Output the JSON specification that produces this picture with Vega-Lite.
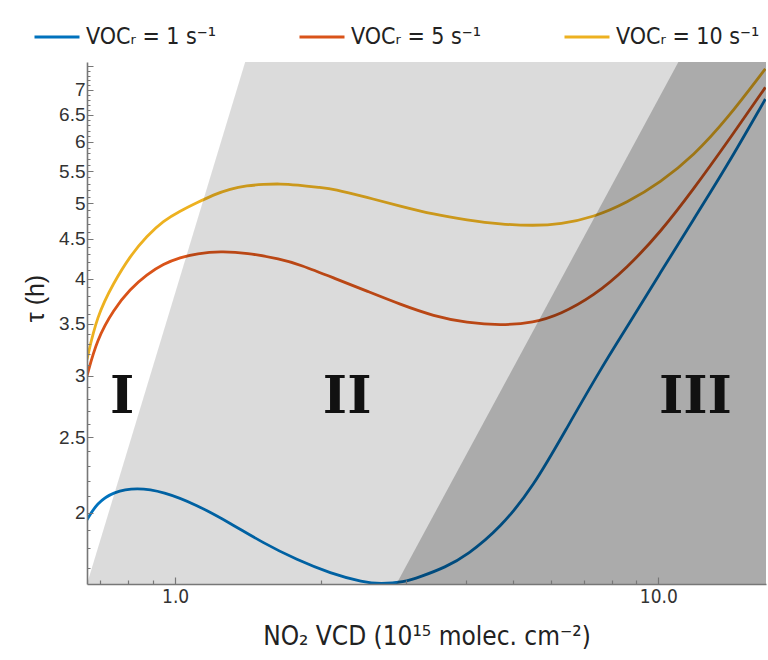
{
  "$schema": "https://vega.github.io/schema/vega-lite/v6.json",
  "width": 679,
  "height": 522,
  "autosize": "none",
  "padding": {"left": 87, "top": 62, "right": 2, "bottom": 76},
  "background": "white",
  "config": {"view": {"stroke": null}},
  "datasets": {
    "curves": [
      {"series": "VOCᵣ = 1 s⁻¹", "no2": 0.657, "tau": 1.959},
      {"series": "VOCᵣ = 1 s⁻¹", "no2": 0.6885, "tau": 2.058},
      {"series": "VOCᵣ = 1 s⁻¹", "no2": 0.7454, "tau": 2.13},
      {"series": "VOCᵣ = 1 s⁻¹", "no2": 0.833, "tau": 2.156},
      {"series": "VOCᵣ = 1 s⁻¹", "no2": 0.9457, "tau": 2.13},
      {"series": "VOCᵣ = 1 s⁻¹", "no2": 1.109, "tau": 2.048},
      {"series": "VOCᵣ = 1 s⁻¹", "no2": 1.2997, "tau": 1.94},
      {"series": "VOCᵣ = 1 s⁻¹", "no2": 1.5236, "tau": 1.828},
      {"series": "VOCᵣ = 1 s⁻¹", "no2": 1.7864, "tau": 1.74},
      {"series": "VOCᵣ = 1 s⁻¹", "no2": 2.0941, "tau": 1.672},
      {"series": "VOCᵣ = 1 s⁻¹", "no2": 2.4537, "tau": 1.628},
      {"series": "VOCᵣ = 1 s⁻¹", "no2": 2.6576, "tau": 1.62},
      {"series": "VOCᵣ = 1 s⁻¹", "no2": 2.9707, "tau": 1.628},
      {"series": "VOCᵣ = 1 s⁻¹", "no2": 3.2159, "tau": 1.655},
      {"series": "VOCᵣ = 1 s⁻¹", "no2": 3.6226, "tau": 1.702},
      {"series": "VOCᵣ = 1 s⁻¹", "no2": 4.0245, "tau": 1.765},
      {"series": "VOCᵣ = 1 s⁻¹", "no2": 4.7095, "tau": 1.913},
      {"series": "VOCᵣ = 1 s⁻¹", "no2": 5.51, "tau": 2.16},
      {"series": "VOCᵣ = 1 s⁻¹", "no2": 6.4714, "tau": 2.574},
      {"series": "VOCᵣ = 1 s⁻¹", "no2": 7.5838, "tau": 3.057},
      {"series": "VOCᵣ = 1 s⁻¹", "no2": 8.6136, "tau": 3.467},
      {"series": "VOCᵣ = 1 s⁻¹", "no2": 10.095, "tau": 4.072},
      {"series": "VOCᵣ = 1 s⁻¹", "no2": 11.834, "tau": 4.772},
      {"series": "VOCᵣ = 1 s⁻¹", "no2": 13.877, "tau": 5.589},
      {"series": "VOCᵣ = 1 s⁻¹", "no2": 16.65, "tau": 6.81},
      {"series": "VOCᵣ = 5 s⁻¹", "no2": 0.657, "tau": 3.0},
      {"series": "VOCᵣ = 5 s⁻¹", "no2": 0.6885, "tau": 3.34},
      {"series": "VOCᵣ = 5 s⁻¹", "no2": 0.7454, "tau": 3.65},
      {"series": "VOCᵣ = 5 s⁻¹", "no2": 0.807, "tau": 3.88},
      {"series": "VOCᵣ = 5 s⁻¹", "no2": 0.8737, "tau": 4.05},
      {"series": "VOCᵣ = 5 s⁻¹", "no2": 0.9457, "tau": 4.18},
      {"series": "VOCᵣ = 5 s⁻¹", "no2": 1.0241, "tau": 4.26},
      {"series": "VOCᵣ = 5 s⁻¹", "no2": 1.109, "tau": 4.31},
      {"series": "VOCᵣ = 5 s⁻¹", "no2": 1.2395, "tau": 4.34},
      {"series": "VOCᵣ = 5 s⁻¹", "no2": 1.4072, "tau": 4.32},
      {"series": "VOCᵣ = 5 s⁻¹", "no2": 1.6501, "tau": 4.24},
      {"series": "VOCᵣ = 5 s⁻¹", "no2": 1.8146, "tau": 4.17},
      {"series": "VOCᵣ = 5 s⁻¹", "no2": 2.1274, "tau": 4.01},
      {"series": "VOCᵣ = 5 s⁻¹", "no2": 2.494, "tau": 3.856},
      {"series": "VOCᵣ = 5 s⁻¹", "no2": 2.9238, "tau": 3.707},
      {"series": "VOCᵣ = 5 s⁻¹", "no2": 3.4255, "tau": 3.581},
      {"series": "VOCᵣ = 5 s⁻¹", "no2": 4.0183, "tau": 3.511},
      {"series": "VOCᵣ = 5 s⁻¹", "no2": 4.7095, "tau": 3.483},
      {"series": "VOCᵣ = 5 s⁻¹", "no2": 5.5189, "tau": 3.511},
      {"series": "VOCᵣ = 5 s⁻¹", "no2": 6.2679, "tau": 3.6},
      {"series": "VOCᵣ = 5 s⁻¹", "no2": 7.3451, "tau": 3.8},
      {"series": "VOCᵣ = 5 s⁻¹", "no2": 8.6136, "tau": 4.13},
      {"series": "VOCᵣ = 5 s⁻¹", "no2": 10.095, "tau": 4.59},
      {"series": "VOCᵣ = 5 s⁻¹", "no2": 11.834, "tau": 5.22},
      {"series": "VOCᵣ = 5 s⁻¹", "no2": 13.877, "tau": 5.99},
      {"series": "VOCᵣ = 5 s⁻¹", "no2": 16.65, "tau": 7.05},
      {"series": "VOCᵣ = 10 s⁻¹", "no2": 0.657, "tau": 3.15},
      {"series": "VOCᵣ = 10 s⁻¹", "no2": 0.6885, "tau": 3.58},
      {"series": "VOCᵣ = 10 s⁻¹", "no2": 0.7454, "tau": 3.95},
      {"series": "VOCᵣ = 10 s⁻¹", "no2": 0.807, "tau": 4.28},
      {"series": "VOCᵣ = 10 s⁻¹", "no2": 0.8737, "tau": 4.54},
      {"series": "VOCᵣ = 10 s⁻¹", "no2": 0.9457, "tau": 4.75},
      {"series": "VOCᵣ = 10 s⁻¹", "no2": 1.0241, "tau": 4.89},
      {"series": "VOCᵣ = 10 s⁻¹", "no2": 1.109, "tau": 5.01},
      {"series": "VOCᵣ = 10 s⁻¹", "no2": 1.2004, "tau": 5.13},
      {"series": "VOCᵣ = 10 s⁻¹", "no2": 1.2997, "tau": 5.22},
      {"series": "VOCᵣ = 10 s⁻¹", "no2": 1.4072, "tau": 5.27},
      {"series": "VOCᵣ = 10 s⁻¹", "no2": 1.5236, "tau": 5.29},
      {"series": "VOCᵣ = 10 s⁻¹", "no2": 1.6501, "tau": 5.3},
      {"series": "VOCᵣ = 10 s⁻¹", "no2": 1.7864, "tau": 5.28},
      {"series": "VOCᵣ = 10 s⁻¹", "no2": 1.9961, "tau": 5.24},
      {"series": "VOCᵣ = 10 s⁻¹", "no2": 2.1274, "tau": 5.22},
      {"series": "VOCᵣ = 10 s⁻¹", "no2": 2.494, "tau": 5.09},
      {"series": "VOCᵣ = 10 s⁻¹", "no2": 2.9238, "tau": 4.96},
      {"series": "VOCᵣ = 10 s⁻¹", "no2": 3.4255, "tau": 4.84},
      {"series": "VOCᵣ = 10 s⁻¹", "no2": 4.0183, "tau": 4.76},
      {"series": "VOCᵣ = 10 s⁻¹", "no2": 4.7095, "tau": 4.7},
      {"series": "VOCᵣ = 10 s⁻¹", "no2": 5.5189, "tau": 4.68},
      {"series": "VOCᵣ = 10 s⁻¹", "no2": 6.2679, "tau": 4.7},
      {"series": "VOCᵣ = 10 s⁻¹", "no2": 7.3451, "tau": 4.8},
      {"series": "VOCᵣ = 10 s⁻¹", "no2": 8.6136, "tau": 5.01},
      {"series": "VOCᵣ = 10 s⁻¹", "no2": 10.095, "tau": 5.32},
      {"series": "VOCᵣ = 10 s⁻¹", "no2": 11.834, "tau": 5.76},
      {"series": "VOCᵣ = 10 s⁻¹", "no2": 13.877, "tau": 6.42},
      {"series": "VOCᵣ = 10 s⁻¹", "no2": 16.65, "tau": 7.45}
    ],
    "regions": [
      {"region": "light", "no2": 0.657, "tau": 1.62},
      {"region": "light", "no2": 1.396, "tau": 7.6},
      {"region": "dark", "no2": 2.87, "tau": 1.62},
      {"region": "dark", "no2": 11.0, "tau": 7.6}
    ],
    "labels": [
      {"label": "I", "no2": 0.777, "tau": 2.69},
      {"label": "II", "no2": 2.27, "tau": 2.69},
      {"label": "III", "no2": 11.93, "tau": 2.69}
    ]
  },
  "encoding": {
    "x": {
      "field": "no2", "type": "quantitative",
      "scale": {"type": "log", "domain": [0.657, 16.7], "nice": false},
      "axis": {
        "title": "NO₂ VCD (10¹⁵ molec. cm⁻²)",
        "values": [0.7, 0.8, 0.9, 1, 2, 3, 4, 5, 6, 7, 8, 9, 10],
        "labelExpr": "datum.value == 1 ? '1.0' : (datum.value == 10 ? '10.0' : '')",
        "labelOverlap": false,
        "labelFont": "DejaVu Sans Condensed, Liberation Sans Narrow, sans-serif",
        "labelFontSize": 19,
        "labelColor": "#333333",
        "labelPadding": 10,
        "tickSize": {"condition": {"test": "datum.value == 1 || datum.value == 10", "value": -7}, "value": -4},
        "tickColor": "#777777",
        "tickWidth": 1.2,
        "domainColor": "#777777",
        "domainWidth": 1.6,
        "grid": false,
        "zindex": 1,
        "titleFont": "DejaVu Sans Condensed, Liberation Sans Narrow, sans-serif",
        "titleFontSize": 26,
        "titleFontWeight": "normal",
        "titleColor": "#222222",
        "titlePadding": 14
      }
    },
    "y": {
      "field": "tau", "type": "quantitative",
      "scale": {"type": "log", "domain": [1.62, 7.6], "nice": false},
      "axis": {
        "title": "τ (h)",
        "values": [1.7, 1.8, 1.9, 2, 2.1, 2.2, 2.3, 2.4, 2.5, 2.6, 2.7, 2.8, 2.9, 3, 3.1, 3.2, 3.3, 3.4, 3.5, 3.6, 3.7, 3.8, 3.9, 4, 4.1, 4.2, 4.3, 4.4, 4.5, 4.6, 4.7, 4.8, 4.9, 5, 5.1, 5.2, 5.3, 5.4, 5.5, 5.6, 5.7, 5.8, 5.9, 6, 6.1, 6.2, 6.3, 6.4, 6.5, 6.6, 6.7, 6.8, 6.9, 7, 7.1, 7.2, 7.3, 7.4, 7.5],
        "labelExpr": "(abs(datum.value * 2 - round(datum.value * 2)) < 0.01 && datum.value >= 2 && datum.value <= 7) ? format(datum.value, '~g') : ''",
        "labelOverlap": false,
        "labelFont": "Liberation Sans, Arial, sans-serif",
        "labelFontSize": 19,
        "labelColor": "#333333",
        "labelPadding": 8,
        "tickSize": {"condition": {"test": "abs(datum.value * 2 - round(datum.value * 2)) < 0.01", "value": -6}, "value": -3},
        "tickColor": "#777777",
        "tickWidth": 1,
        "domainColor": "#777777",
        "domainWidth": 1.6,
        "grid": false,
        "zindex": 1,
        "titleFont": "Liberation Sans, Arial, sans-serif",
        "titleFontSize": 25,
        "titleFontWeight": "normal",
        "titleColor": "#222222",
        "titleX": -52,
        "titleY": 236,
        "titleAlign": "center",
        "titleBaseline": "middle",
        "titleAngle": -90
      }
    }
  },
  "layer": [
    {
      "data": {"name": "curves"},
      "mark": {"type": "line", "strokeWidth": 2.8, "interpolate": "basis", "clip": true},
      "encoding": {
        "color": {
          "field": "series", "type": "nominal",
          "scale": {"domain": ["VOCᵣ = 1 s⁻¹", "VOCᵣ = 5 s⁻¹", "VOCᵣ = 10 s⁻¹"], "range": ["#0072BD", "#D95319", "#EDB120"]},
          "legend": {
            "title": null,
            "orient": "none",
            "legendX": -54,
            "legendY": -49,
            "direction": "horizontal",
            "columns": 3,
            "columnPadding": 76,
            "symbolType": "stroke",
            "symbolSize": 2025,
            "symbolStrokeWidth": 3,
            "labelFont": "DejaVu Sans Condensed, Liberation Sans Narrow, sans-serif",
            "labelFontSize": 23,
            "labelColor": "#222222",
            "labelOffset": 5,
            "labelLimit": 300
          }
        }
      }
    },
    {
      "data": {"name": "regions"},
      "transform": [{"filter": "datum.region == 'light'"}],
      "mark": {"type": "area", "orient": "horizontal", "color": "#000000", "opacity": 0.14, "clip": true},
      "encoding": {
        "x2": {"datum": 16.7}
      }
    },
    {
      "data": {"name": "regions"},
      "transform": [{"filter": "datum.region == 'dark'"}],
      "mark": {"type": "area", "orient": "horizontal", "color": "#000000", "opacity": 0.22, "clip": true},
      "encoding": {
        "x2": {"datum": 16.7}
      }
    },
    {
      "data": {"name": "labels"},
      "mark": {"type": "text", "font": "DejaVu Serif", "fontWeight": "bold", "fontSize": 52, "color": "#111111", "align": "center", "baseline": "alphabetic"},
      "encoding": {
        "text": {"field": "label", "type": "nominal"}
      }
    }
  ]
}
